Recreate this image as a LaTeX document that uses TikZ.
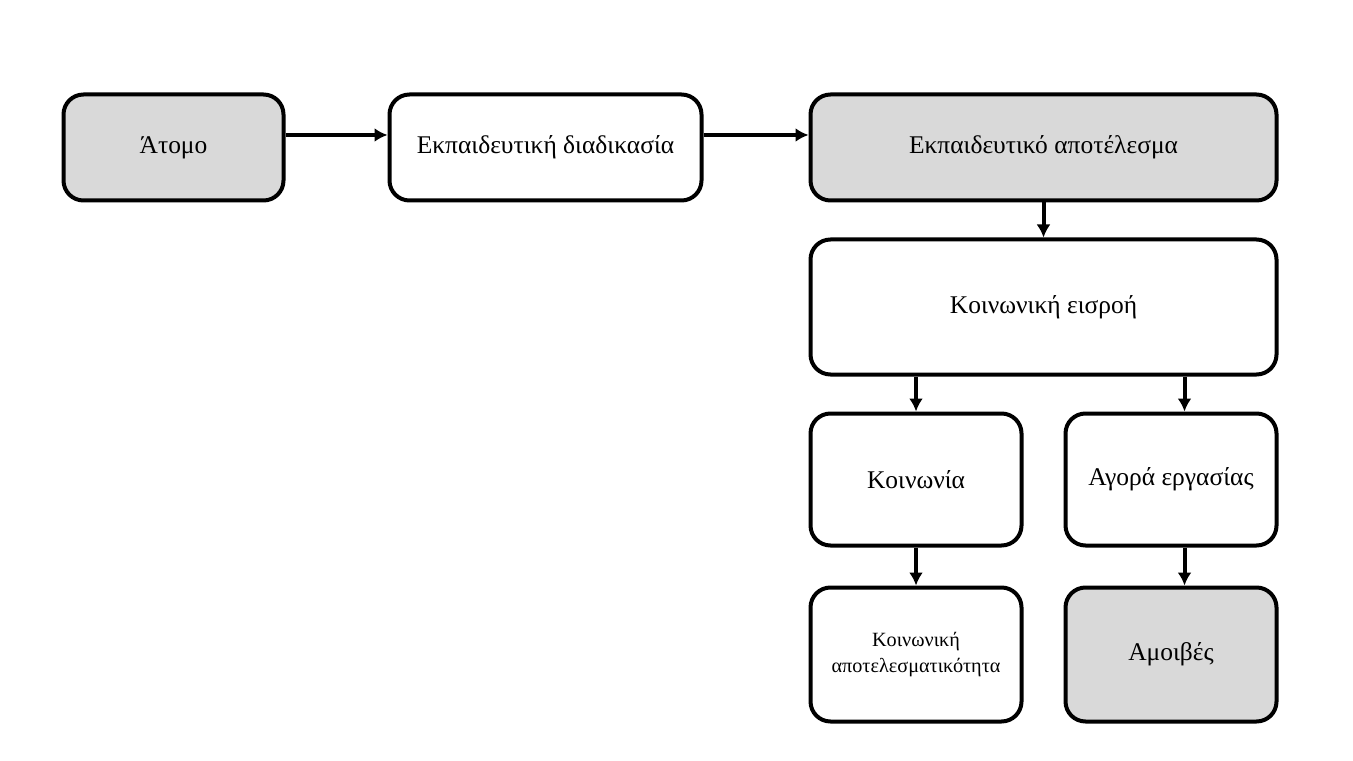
\documentclass[tikz,border=0pt]{standalone}
\usepackage{fontspec}
\setmainfont{Liberation Serif}
\usetikzlibrary{positioning,arrows.meta}
\definecolor{boxgray}{HTML}{D9D9D9}
\tikzset{
    box/.style={draw, rectangle, rounded corners=0.4cm, line width=0.08cm, align=center, font=\fontsize{14.5}{17}\selectfont},
    graybox/.style={box, fill=boxgray},
    smalltext/.style={font=\fontsize{11.5}{14.5}\selectfont}
}
\begin{document}
\begin{tikzpicture}[
                    node distance=0.7cm,
                    >={Latex[length=0.26cm,width=0.28cm]},
                    line width=0.08cm
                    ]
    \useasboundingbox (0,0) rectangle (27.06,-15.22);

    \node [graybox, minimum width=4.4cm, minimum height=2.12cm] (atomo) at (3.47,-2.95) {Άτομο};
    \node [box, right=2.04cm of atomo, minimum width=6.24cm, minimum height=2.12cm] (diadikasia) {Εκπαιδευτική διαδικασία};
    \node [graybox, right=2.1cm of diadikasia, minimum width=9.32cm, minimum height=2.12cm] (apotelesma) {Εκπαιδευτικό αποτέλεσμα};

    \node [box, below=of apotelesma, minimum width=9.32cm, minimum height=2.7cm] (eisroi) {Κοινωνική εισροή};

    \node [box, below=of eisroi.south west, anchor=north west, minimum width=4.22cm, minimum height=2.64cm] (koinonia) {Κοινωνία};
    \node [box, below=of eisroi.south east, anchor=north east, minimum width=4.22cm, minimum height=2.64cm] (agora) {Αγορά εργασίας};

    \node [box, smalltext, below=0.76cm of koinonia, minimum width=4.22cm, minimum height=2.68cm] (apotelesmatikotita) {Κοινωνική\\αποτελεσματικότητα};
    \node [graybox, below=0.76cm of agora, minimum width=4.22cm, minimum height=2.68cm] (amoives) {Αμοιβές};

    \draw[->] ([yshift=0.25cm]atomo.east) -- ([yshift=0.25cm]diadikasia.west);
    \draw[->] ([yshift=0.25cm]diadikasia.east) -- ([yshift=0.25cm]apotelesma.west);
    \draw[->] (apotelesma) -- (eisroi);
    \draw[->] (eisroi.south -| koinonia.north) -- (koinonia);
    \draw[->] ([xshift=0.27cm]eisroi.south -| agora.north) -- ([xshift=0.27cm]agora.north);
    \draw[->] (koinonia) -- (apotelesmatikotita);
    \draw[->] ([xshift=0.27cm]agora.south) -- ([xshift=0.27cm]amoives.north);

\end{tikzpicture}
\end{document}
